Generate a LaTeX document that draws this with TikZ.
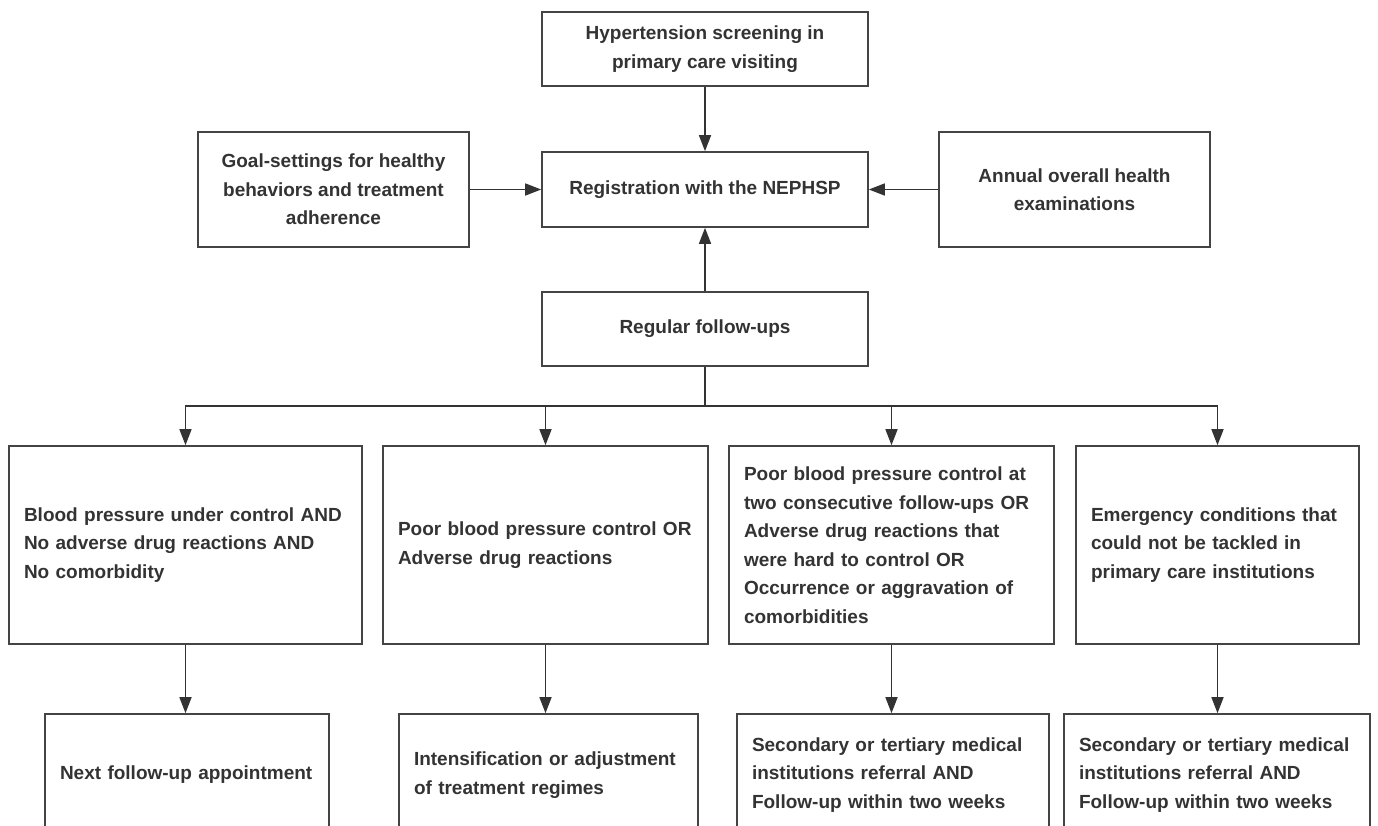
\documentclass[tikz,border=0pt]{standalone}
\usepackage{fontspec}
\setmainfont{Liberation Sans}
\usetikzlibrary{arrows.meta}
\definecolor{ink}{HTML}{333333}
\definecolor{edge}{HTML}{444444}
\begin{document}
\begin{tikzpicture}[x=1pt,y=-1pt,
  box/.style={draw=edge,line width=1.6pt,fill=white,inner sep=0pt,font=\fontsize{19}{28.5}\selectfont\bfseries,text=ink},
  cbox/.style={box,align=center},
  lbox/.style={box,align=left,inner xsep=15pt},
  conn/.style={draw=ink,line width=1.5pt,-{Triangle[length=16pt,width=12pt]}},
  plain/.style={draw=ink,line width=1.5pt}]
\useasboundingbox (0,0) rectangle (1378,825);
\clip (0,0) rectangle (1378,825);
\node[cbox,minimum width=326,minimum height=74] (top) at (705,49) {Hypertension screening in\\primary care visiting};
\node[cbox,minimum width=326,minimum height=75] (reg) at (705,189.5) {Registration with the NEPHSP};
\node[cbox,minimum width=271,minimum height=115] (goal) at (333.5,189.5) {Goal-settings for healthy\\behaviors and treatment\\adherence};
\node[cbox,minimum width=271,minimum height=115] (annual) at (1074.5,189.5) {Annual overall health\\examinations};
\node[cbox,minimum width=326,minimum height=74] (follow) at (705,329) {Regular follow-ups};
\node[lbox,minimum width=353,minimum height=198,text width=323] (c1) at (185.5,545) {Blood pressure under control AND\\No adverse drug reactions AND\\No comorbidity};
\node[lbox,minimum width=325,minimum height=198,text width=295] (c2) at (545.5,545) {Poor blood pressure control OR\\Adverse drug reactions};
\node[lbox,minimum width=325,minimum height=198,text width=295] (c3) at (891.5,545) {Poor blood pressure control at\\two consecutive follow-ups OR\\Adverse drug reactions that\\were hard to control OR\\Occurrence or aggravation of\\comorbidities};
\node[lbox,minimum width=283,minimum height=198,text width=253] (c4) at (1217.5,545) {Emergency conditions that\\could not be tackled in\\primary care institutions};
\node[lbox,minimum width=284,minimum height=122,text width=254] (b1) at (187,775) {Next follow-up appointment};
\node[lbox,minimum width=299,minimum height=122,text width=269] (b2) at (548.5,775) {Intensification or adjustment\\of treatment regimes};
\node[lbox,minimum width=312,minimum height=122,text width=282] (b3) at (893,775) {Secondary or tertiary medical\\institutions referral AND\\Follow-up within two weeks};
\node[lbox,minimum width=306,minimum height=122,text width=276] (b4) at (1217,775) {Secondary or tertiary medical\\institutions referral AND\\Follow-up within two weeks};
\coordinate (branch) at (705,406);
\draw[conn] (top) -- (reg);
\draw[conn] (goal) -- (reg);
\draw[conn] (annual) -- (reg);
\draw[conn] (follow) -- (reg);
\draw[plain] (follow.south) -- (branch);
\draw[conn] (branch) -| (c1.north);
\draw[conn] (branch) -| (c2.north);
\draw[conn] (branch) -| (c3.north);
\draw[conn] (branch) -| (c4.north);
\draw[conn] (c1.south) -- (c1.south |- b1.north);
\draw[conn] (c2.south) -- (c2.south |- b2.north);
\draw[conn] (c3.south) -- (c3.south |- b3.north);
\draw[conn] (c4.south) -- (c4.south |- b4.north);
\end{tikzpicture}
\end{document}
